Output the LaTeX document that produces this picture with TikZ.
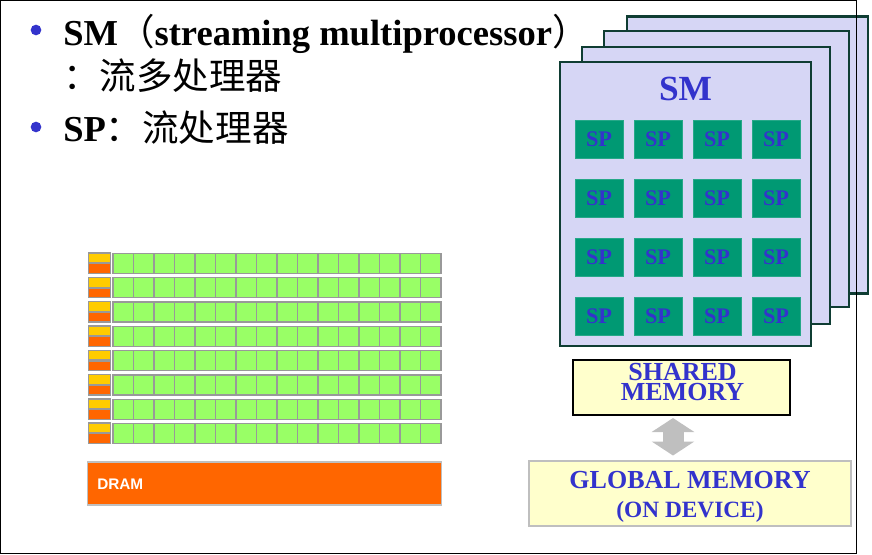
\documentclass[tikz,border=0pt]{standalone}
\usepackage{fontspec}
\setmainfont{Liberation Serif}
\newfontfamily\cjk{Noto Sans CJK SC}
\newfontfamily\dramfont{Liberation Sans}
\usetikzlibrary{arrows.meta}
\definecolor{textblue}{HTML}{3333CC}
\definecolor{cardfill}{HTML}{D6D6F5}
\definecolor{carddraw}{HTML}{0F3D33}
\definecolor{spfill}{HTML}{009973}
\definecolor{memfill}{HTML}{FFFFCC}
\definecolor{cellfill}{HTML}{99FF66}
\definecolor{dramfill}{HTML}{FF6600}
\definecolor{cachefill}{HTML}{FFCC00}
\tikzset{
  smcard/.style={draw=carddraw,fill=cardfill,line width=1.8pt,minimum width=#1*0.75pt,inner sep=0pt},
  spbox/.style={draw=spfill!85!white,fill=spfill,line width=0.4pt,minimum width=36pt,minimum height=28.5pt,inner sep=0pt,text=textblue,font=\bfseries\fontsize{16.7}{18}\selectfont},
  cell/.style={draw=black!40,fill=cellfill,line width=1pt,minimum width=15.4pt,minimum height=15pt,inner sep=0pt},
  cachebox/.style={draw=black!40,line width=1.1pt,minimum width=16.5pt,minimum height=7.4pt,inner sep=0pt},
  memtext/.style={text=textblue,font=\bfseries\fontsize{19.5}{15}\selectfont,align=center,inner sep=0pt},
  heading/.style={anchor=base west,inner sep=0pt,font=\bfseries\fontsize{27.4}{30}\selectfont},
  bullet/.style={circle,fill=textblue,minimum size=8pt,inner sep=0pt}
}
\newcommand{\cjktext}[1]{{\cjk\mdseries #1}}
\begin{document}
\begin{tikzpicture}[x=0.75pt,y=-0.75pt]
\useasboundingbox (0,0) rectangle (872,554);

\node[smcard=241,minimum height=207.75pt] (sm4) at (747.5,155) {};
\node[smcard=245,minimum height=207pt] (sm3) at (726.5,169) {};
\node[smcard=248,minimum height=207.75pt] (sm2) at (706,185.5) {};
\node[smcard=251,minimum height=213pt] (sm1) at (685.5,204) {};
\node[text=textblue,inner sep=0pt,font=\bfseries\fontsize{26.5}{30}\selectfont] (smlabel) at (685.5,89) {SM};

\foreach \r in {0,...,3}
  \foreach \c in {0,...,3}
    \node[spbox] (sp-\r-\c) at ({599+59*\c},{139+59*\r}) {SP};

\node[draw=black,fill=memfill,line width=1.5pt,minimum width=162.75pt,minimum height=41.25pt,inner sep=0pt] (shared) at (681.5,387.5) {};
\node[memtext] (sharedlabel) at (682.5,382.5) {SHARED\\MEMORY};
\node[draw=black!25,fill=memfill,line width=1.5pt,minimum width=241.5pt,minimum height=48.75pt,inner sep=0pt] (global) at (690,493.5) {};
\node[memtext] (globallabel) at (690,480) {GLOBAL MEMORY};
\node[text=textblue,inner sep=0pt,font=\bfseries\fontsize{17.5}{20}\selectfont] (devicelabel) at (690,512) {(ON DEVICE)};

\coordinate (arrowtop) at (673,418);
\coordinate (arrowbot) at (673,455.5);
\draw[black!25,line width=15.75pt,{Triangle[width=31.5pt,length=10.5pt]}-{Triangle[width=31.5pt,length=10.5pt]}] (arrowtop) -- (arrowbot);

\foreach \r in {0,...,7} {
  \node[cachebox,fill=cachefill] (cachetop-\r) at ({99.5},{258+24.3*\r}) {};
  \node[cachebox,fill=dramfill] (cachebot-\r) at ({99.5},{268.5+24.3*\r}) {};
  \foreach \c in {0,...,15}
    \node[cell] (cell-\r-\c) at ({123.25+20.5*\c},{263.5+24.3*\r}) {};
}

\node[draw=black!25,fill=dramfill,line width=0.8pt,minimum width=265pt,minimum height=32.25pt,inner sep=0pt] (dram) at (264.5,483.5) {};
\node[anchor=west,text=white,inner sep=0pt,font=\dramfont\bfseries\fontsize{11.5}{13}\selectfont] (dramlabel) at (97,484) {DRAM};

\node[draw=black,line width=0.8pt,minimum width=642pt,minimum height=414.75pt,inner sep=0pt] (frame) at (428.25,276.75) {};

\node[bullet] (bullet1) at (36,30) {};
\node[bullet] (bullet2) at (36,127) {};
\node[heading] (line1) at (63,45) {SM\cjktext{（}streaming multiprocessor\cjktext{）}};
\node[heading] (line2) at (63,89) {\cjktext{：流多处理器}};
\node[heading] (line3) at (63,141) {SP\cjktext{：流处理器}};
\end{tikzpicture}
\end{document}
